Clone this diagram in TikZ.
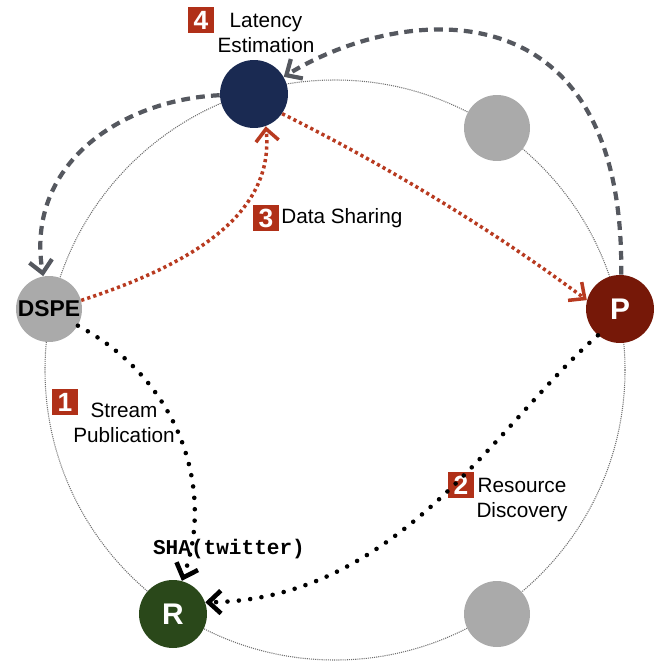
\documentclass[tikz,border=0pt]{standalone}
\usepackage{fontspec}
\setmainfont{Liberation Sans}
\setmonofont{Liberation Mono}
\usetikzlibrary{arrows.meta}
\definecolor{navy}{RGB}{26,42,82}
\definecolor{ringgray}{RGB}{110,110,110}
\definecolor{peergray}{RGB}{170,170,170}
\definecolor{pred}{RGB}{118,24,8}
\definecolor{rgreen}{RGB}{42,72,26}
\definecolor{badgered}{RGB}{176,48,24}
\definecolor{flowred}{RGB}{184,58,32}
\definecolor{ctrlgray}{RGB}{85,88,95}
\tikzset{
  peer/.style={circle, fill=peergray, minimum size=1.32cm, inner sep=0pt, font=\fontsize{13}{15}\selectfont\bfseries},
  owner/.style={peer, text=white, minimum size=1.36cm, font=\fontsize{17}{19}\selectfont\bfseries},
  badge/.style={fill=badgered, text=white, minimum size=0.52cm, inner sep=0pt, font=\fontsize{15}{15}\selectfont\bfseries},
  lbl/.style={align=center, inner sep=0pt, font=\fontsize{11.8}{14.2}\selectfont},
  tip/.style={-{Straight Barb[length=7pt,width=13pt]}},
  ctrl/.style={draw=ctrlgray, line width=2.4pt, dash pattern=on 5pt off 3.5pt, tip},
  share/.style={draw=flowred, line width=2pt, dash pattern=on 1.8pt off 1.8pt, tip},
  lookup/.style={draw=black, line width=2.6pt, line cap=round, dash pattern=on 0pt off 6.5pt, tip},
}
\begin{document}
\begin{tikzpicture}[x=0.02cm, y=-0.02cm]
  \useasboundingbox (0,0) rectangle (659,662);
  % ring
  \draw[ringgray, line width=0.6pt, dash pattern=on 0.6pt off 0.6pt] (335,370) circle[radius=290];
  % peers
  \node[peer, fill=navy, minimum size=1.36cm] (lat) at (254,94) {};
  \node[peer] (gtop) at (497,128) {};
  \node[peer] (dspe) at (49,309) {DSPE};
  \node[owner, fill=pred] (p) at (620,309) {P};
  \node[owner, fill=rgreen] (r) at (173,614) {R};
  \node[peer] (gbot) at (497,614) {};
  % steps
  \node[badge] (b4) at (201,20) {4};
  \node[lbl] (t4) at (266,33) {Latency\\Estimation};
  \node[badge] (b3) at (266,218) {3};
  \node[lbl, anchor=west] (t3) at (281,218) {Data Sharing};
  \node[badge] (b1) at (65,402) {1};
  \node[lbl] (t1) at (124,423) {Stream\\Publication};
  \node[badge] (b2) at (461,485) {2};
  \node[lbl] (t2) at (522,500) {Resource\\Discovery};
  \node[font=\ttfamily\bfseries\fontsize{12}{12}\selectfont, inner sep=0pt] (sha) at (229,549) {SHA(twitter)};
  % flows
  \draw[ctrl] (lat.182) .. controls (120,100) and (25,165) .. (dspe.100);
  \draw[ctrl] (p.88) .. controls (625,-20) and (400,5) .. (lat.30);
  \draw[share] (dspe.15) .. controls (190,265) and (275,215) .. (lat.-70);
  \draw[share] (lat.-35) .. controls (385,165) and (490,228) .. (p.165);
  \draw[lookup] (dspe.-30) .. controls (180,380) and (215,490) .. (r.75);
  \draw[lookup] (p.-130) .. controls (500,420) and (400,600) .. (r.20);
\end{tikzpicture}
\end{document}
